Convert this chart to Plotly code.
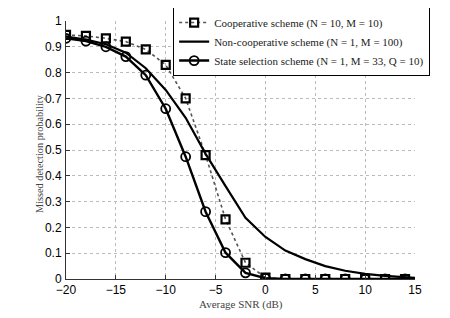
import plotly.graph_objects as go

snr = [-20, -18, -16, -14, -12, -10, -8, -6, -4, -2, 0, 2, 4, 6, 8, 10, 12, 14]
coop = [0.946, 0.942, 0.933, 0.920, 0.890, 0.830, 0.700, 0.480, 0.231, 0.063, 0.005, 0.0, 0.0, 0.0, 0.0, 0.0, 0.0, 0.0]
state = [0.933, 0.922, 0.900, 0.862, 0.790, 0.660, 0.474, 0.261, 0.102, 0.024, 0.003, 0.0, 0.0, 0.0, 0.0, 0.0, 0.0, 0.0]
snr_nc = [-20, -18, -16, -14, -12, -10, -8, -6, -4, -2, 0, 2, 4, 6, 8, 10, 12, 14, 15]
noncoop = [0.940, 0.928, 0.910, 0.877, 0.817, 0.733, 0.625, 0.485, 0.360, 0.237, 0.163, 0.110, 0.077, 0.050, 0.032, 0.020, 0.012, 0.006, 0.004]

y_ticks = [0, 0.1, 0.2, 0.3, 0.4, 0.5, 0.6, 0.7, 0.8, 0.9, 1]
y_ticklabels = ["0", "0.1", "0.2", "0.3", "0.4", "0.5", "0.6", "0.7", "0.8", "0.9", "1"]
x_ticks = [-20, -15, -10, -5, 0, 5, 10, 15]
x_ticklabels = ["\u221220", "\u221215", "\u221210", "\u22125", "0", "5", "10", "15"]

names = ["Cooperative scheme (N = 10, M = 10)",
         "Non-cooperative scheme (N = 1, M = 100)",
         "State selection scheme (N = 1, M = 33, Q = 10)"]
x_title = "Average SNR (dB)"
y_title = "Missed detection probability"

fig = go.Figure()
fig.add_trace(go.Scatter(
    x=snr, y=coop, name=names[0], mode="lines+markers",
    line=dict(color="#555555", width=1.6, dash="dot"),
    marker=dict(symbol="square-open", size=8, color="black", line=dict(width=2.2)),
))
fig.add_trace(go.Scatter(
    x=snr_nc, y=noncoop, name=names[1], mode="lines",
    line=dict(color="black", width=2.2),
))
fig.add_trace(go.Scatter(
    x=snr, y=state, name=names[2], mode="lines+markers",
    line=dict(color="black", width=2.4),
    marker=dict(symbol="circle-open", size=9, color="black", line=dict(width=1.8)),
))
# extend the state-selection line to the axis end
fig.add_trace(go.Scatter(
    x=[snr[-1], snr_nc[-1]], y=[state[-1], 0.0], mode="lines", showlegend=False,
    line=dict(color="black", width=2.4), hoverinfo="skip",
))

tickfont = dict(family="Liberation Sans, Arial, sans-serif", size=12, color="black")
serif = "Liberation Serif, DejaVu Serif, serif"

# page body has an 8px margin, so the figure is shrunk/offset to compensate
fig.update_layout(
    width=442, height=310,
    margin=dict(l=58, r=35, t=13, b=39, autoexpand=False),
    paper_bgcolor="white", plot_bgcolor="white",
    showlegend=True,
    legend=dict(
        x=0.307, y=1.054, xanchor="left", yanchor="top",
        bgcolor="white", bordercolor="black", borderwidth=1,
        font=dict(family=serif, size=11, color="#222222"),
        tracegroupgap=0, itemwidth=30,
    ),
    xaxis=dict(
        range=[-20, 15], tickvals=x_ticks, ticktext=x_ticklabels,
        showgrid=True, gridcolor="#bbbbbb", griddash="dot", gridwidth=1,
        showline=True, linecolor="#333333", linewidth=1,
        ticks="inside", ticklen=4, tickcolor="#333333",
        tickfont=tickfont, zeroline=False, automargin=False,
        ticklabelstandoff=0,
    ),
    yaxis=dict(
        range=[0, 1], tickvals=y_ticks, ticktext=y_ticklabels,
        showgrid=True, gridcolor="#bbbbbb", griddash="dot", gridwidth=1,
        showline=True, linecolor="#333333", linewidth=1,
        ticks="inside", ticklen=4, tickcolor="#333333",
        tickfont=tickfont, zeroline=False, automargin=False,
        ticklabelstandoff=1,
    ),
    annotations=[
        dict(text=x_title, x=0.5, y=0, xref="paper", yref="paper",
             xanchor="center", yanchor="middle", yshift=-25, showarrow=False,
             font=dict(family=serif, size=11, color="#444444")),
        dict(text=y_title, x=0, y=0.5, xref="paper", yref="paper",
             xanchor="center", yanchor="middle", xshift=-27, yshift=-4, textangle=-90,
             showarrow=False, font=dict(family=serif, size=10.3, color="#444444")),
    ],
)

fig.write_html("out.html")
